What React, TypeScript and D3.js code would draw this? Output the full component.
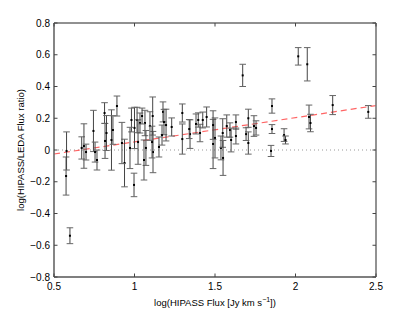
import React, { useEffect, useRef } from "react";
import * as d3 from "d3";

// log(HIPASS flux)
const fluxX = [
  0.575, 0.578, 0.599, 0.672, 0.686, 0.699, 0.745, 0.755, 0.767, 0.814,
  0.817, 0.826, 0.891, 0.857, 0.866, 0.938, 0.922, 0.981, 0.972, 1.0,
  1.016, 1.022, 0.997, 1.065, 1.071, 1.096, 1.115, 1.113, 1.109, 1.034,
  1.059, 1.177, 1.183, 1.171, 1.152, 1.231, 1.297, 1.297, 1.345, 1.34,
  1.382, 1.396, 1.407, 1.424, 1.448, 1.488, 1.5, 1.537, 1.548, 1.573,
  1.593, 1.63, 1.63, 1.672, 1.707, 1.707, 1.693, 1.742, 1.755, 1.854,
  1.854, 1.848, 1.929, 1.938, 2.017, 2.073, 2.084, 2.093, 2.231, 2.452,
  1.196, 1.488, 1.6, 1.55, 1.047,
];
// log(HIPASS/LEDA flux ratio)
const ratioY = [
  -0.164, -0.006, -0.54, 0.013, 0.025, -0.013, 0.12, -0.013, -0.063, 0.233,
  0.057, 0.107, 0.277, 0.063, 0.126, -0.082, 0.044, 0.189, 0.013, 0.139,
  0.189, 0.05, -0.22, 0.17, 0.013, 0.151, -0.013, 0.214, 0.05, 0.17,
  -0.063, 0.24, 0.176, 0.094, 0.019, 0.145, 0.233, 0.069, 0.1, 0.132,
  0.164, 0.189, 0.107, 0.189, 0.208, 0.038, 0.076, 0.013, 0.107, 0.151,
  0.126, 0.176, 0.088, 0.47, 0.2, 0.044, 0.1, 0.151, 0.139, 0.277,
  0.132, -0.006, 0.094, 0.063, 0.59, 0.54, 0.208, 0.17, 0.283, 0.24,
  0.157, 0.157, 0.063, -0.05, 0.214,
];
// error bar half lengths
const ratioErr = [
  0.12, 0.12, 0.05, 0.07, 0.14, 0.05, 0.13, 0.063, 0.063, 0.065,
  0.11, 0.11, 0.063, 0.19, 0.09, 0.15, 0.13, 0.075, 0.13, 0.13,
  0.08, 0.14, 0.074, 0.08, 0.11, 0.09, 0.13, 0.12, 0.1, 0.063,
  0.126, 0.063, 0.08, 0.063, 0.063, 0.057, 0.057, 0.095, 0.09, 0.06,
  0.063, 0.045, 0.055, 0.05, 0.063, 0.155, 0.126, 0.075, 0.09, 0.07,
  0.045, 0.045, 0.05, 0.07, 0.057, 0.07, 0.04, 0.065, 0.045, 0.045,
  0.028, 0.035, 0.04, 0.025, 0.055, 0.105, 0.075, 0.055, 0.06, 0.04,
  0.1, 0.09, 0.075, 0.11, 0.05,
];

// fitted trend (red dashed) end points
const fitX = [0.5, 2.5];
const fitY = [-0.025, 0.28];

const xTicks = [0.5, 1, 1.5, 2, 2.5];
const yTicks = [-0.8, -0.6, -0.4, -0.2, 0, 0.2, 0.4, 0.6, 0.8];

export default function App() {
  const ref = useRef<SVGSVGElement>(null);

  useEffect(() => {
    const W = 415, H = 313;
    const margin = { top: 23, right: 39, bottom: 36, left: 54 };
    const svg = d3.select(ref.current);
    svg.selectAll("*").remove();

    const x = d3.scaleLinear().domain([0.5, 2.5]).range([margin.left, W - margin.right]);
    const y = d3.scaleLinear().domain([-0.8, 0.8]).range([H - margin.bottom, margin.top]);
    const font = "'Liberation Sans', Arial, Helvetica, sans-serif";

    svg.append("rect").attr("width", W).attr("height", H).attr("fill", "#fff");

    // zero line, dotted
    svg.append("line")
      .attr("x1", x(0.5)).attr("x2", x(2.5))
      .attr("y1", y(0)).attr("y2", y(0))
      .attr("stroke", "#999").attr("stroke-width", 1)
      .attr("stroke-dasharray", "1,3");

    // fit line, dashed red
    const fit = fitX.map((v, i) => [v, fitY[i]] as [number, number]);
    svg.append("path")
      .datum(fit)
      .attr("d", d3.line<[number, number]>().x(d => x(d[0])).y(d => y(d[1])))
      .attr("fill", "none")
      .attr("stroke", "#ff4a4a").attr("stroke-opacity", 0.85)
      .attr("stroke-width", 1.2)
      .attr("stroke-dasharray", "6,4");

    // error bars
    const data = fluxX.map((v, i) => ({ x: v, y: ratioY[i], e: ratioErr[i] }));
    const g = svg.append("g");
    const bars = g.selectAll("g.bar").data(data).join("g").attr("class", "bar");
    bars.append("line")
      .attr("x1", d => x(d.x)).attr("x2", d => x(d.x))
      .attr("y1", d => y(d.y - d.e)).attr("y2", d => y(d.y + d.e))
      .attr("stroke", "#444").attr("stroke-width", 1);
    [-1, 1].forEach(s => {
      bars.append("line")
        .attr("x1", d => x(d.x) - 3.3).attr("x2", d => x(d.x) + 3.3)
        .attr("y1", d => y(d.y + s * d.e)).attr("y2", d => y(d.y + s * d.e))
        .attr("stroke", "#666").attr("stroke-width", 1);
    });
    bars.append("rect")
      .attr("x", d => x(d.x) - 1).attr("y", d => y(d.y) - 1)
      .attr("width", 2).attr("height", 2)
      .attr("fill", "#000");

    // box
    const x0 = x(0.5), x1 = x(2.5), y0 = y(-0.8), y1 = y(0.8);
    svg.append("line").attr("x1", x0).attr("x2", x1).attr("y1", y1).attr("y2", y1)
      .attr("stroke", "#222").attr("stroke-width", 1);
    svg.append("line").attr("x1", x0).attr("x2", x1).attr("y1", y0).attr("y2", y0)
      .attr("stroke", "#555").attr("stroke-width", 1.5);
    svg.append("line").attr("x1", x0).attr("x2", x0).attr("y1", y0).attr("y2", y1)
      .attr("stroke", "#666").attr("stroke-width", 1.6);
    svg.append("line").attr("x1", x1).attr("x2", x1).attr("y1", y0).attr("y2", y1)
      .attr("stroke", "#777").attr("stroke-width", 1.6);

    // ticks (inside, all four sides)
    const tl = 3.5;
    xTicks.forEach(t => {
      svg.append("line").attr("x1", x(t)).attr("x2", x(t)).attr("y1", y0).attr("y2", y0 - tl)
        .attr("stroke", "#444");
      svg.append("line").attr("x1", x(t)).attr("x2", x(t)).attr("y1", y1).attr("y2", y1 + tl)
        .attr("stroke", "#444");
      svg.append("text").attr("x", x(t)).attr("y", y0 + 13)
        .attr("text-anchor", "middle").attr("font-family", font).attr("font-size", 10)
        .attr("fill", "#000").text(String(t));
    });
    yTicks.forEach(t => {
      svg.append("line").attr("x1", x0).attr("x2", x0 + tl).attr("y1", y(t)).attr("y2", y(t))
        .attr("stroke", "#444");
      svg.append("line").attr("x1", x1).attr("x2", x1 - tl).attr("y1", y(t)).attr("y2", y(t))
        .attr("stroke", "#444");
      const lab = t === 0 ? "0" : (t < 0 ? "\u2212" : "") + Math.abs(t).toFixed(1);
      svg.append("text").attr("x", x0 - 4).attr("y", y(t) + 3.5)
        .attr("text-anchor", "end").attr("font-family", font).attr("font-size", 10)
        .attr("fill", "#000").text(lab);
    });

    // axis titles
    const xl = svg.append("text").attr("x", (x0 + x1) / 2).attr("y", y0 + 29)
      .attr("text-anchor", "middle").attr("font-family", font).attr("font-size", 9.5)
      .attr("fill", "#000");
    xl.append("tspan").text("log(HIPASS Flux [Jy km s");
    xl.append("tspan").attr("dy", -4).attr("font-size", 7).text("\u22121");
    xl.append("tspan").attr("dy", 4).text("])");

    svg.append("text")
      .attr("transform", `translate(24, ${(y0 + y1) / 2}) rotate(-90)`)
      .attr("text-anchor", "middle").attr("font-family", font).attr("font-size", 9.5)
      .attr("fill", "#000").text("log(HIPASS/LEDA Flux ratio)");
  }, []);

  return (
    <svg ref={ref} width={415} height={313}
      style={{ position: "absolute", left: 0, top: 0, display: "block" }} />
  );
}
